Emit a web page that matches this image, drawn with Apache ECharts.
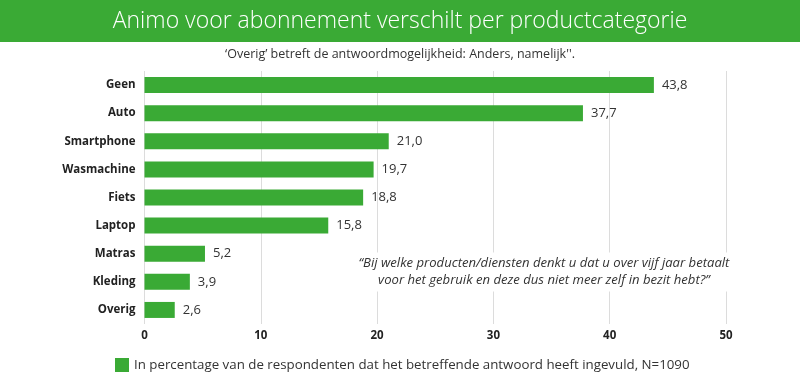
<!DOCTYPE html>
<html><head><meta charset="utf-8">
<script src="https://cdn.jsdelivr.net/npm/echarts@6/dist/echarts.min.js"></script>
<style>html,body{margin:0;padding:0;background:#fff}#c{width:800px;height:387px}</style>
</head><body><div id="c"></div>
<script>
const categories = ['Geen','Auto','Smartphone','Wasmachine','Fiets','Laptop','Matras','Kleding','Overig'];
const values = [43.8, 37.7, 21.0, 19.7, 18.8, 15.8, 5.2, 3.9, 2.6];
const xTicks = [0, 10, 20, 30, 40, 50];
const seriesName = 'In percentage van de respondenten dat het betreffende antwoord heeft ingevuld, N=1090';
const titleText = 'Animo voor abonnement verschilt per productcategorie';
const subtitleText = '\u2018Overig\u2019 betreft de antwoordmogelijkheid: Anders, namelijk\'\'.';
const quoteText = '\u201cBij welke producten/diensten denkt u dat u over vijf jaar betaalt\nvoor het gebruik en deze dus niet meer zelf in bezit hebt?\u201d';

const green = '#3aaa35';
const font = '"Open Sans", sans-serif';
const chart = echarts.init(document.getElementById('c'));
chart.setOption({
  animation: false,
  textStyle: {fontFamily: font},
  graphic: [
    {type: 'rect', shape: {x: 0, y: 0, width: 800, height: 42}, style: {fill: green}, z: 0},
    {type: 'text', x: 400, y: 21, style: {text: titleText, fill: '#fff', font: '300 23px ' + font, align: 'center', verticalAlign: 'middle'}},
    {type: 'text', x: 400, y: 54, style: {text: subtitleText, fill: '#333', font: '12.5px ' + font, align: 'center', verticalAlign: 'middle'}},
    {type: 'text', x: 544, y: 272, z: 10, style: {text: quoteText, fill: '#333', font: 'italic 13.1px ' + font, align: 'center', verticalAlign: 'middle', lineHeight: 17.5, backgroundColor: '#fff', padding: [2, 2]}}
  ],
  legend: {
    left: 110, top: 353, itemWidth: 14, itemHeight: 14, itemGap: 8,
    icon: 'rect',
    textStyle: {color: '#333', fontSize: 13.3, fontFamily: font},
    data: [seriesName]
  },
  grid: {left: 144.5, right: 74, top: 71, bottom: 63, containLabel: false},
  xAxis: {
    type: 'value', min: 0, max: 50, interval: 10,
    axisLine: {show: false}, axisTick: {show: false},
    splitLine: {show: true, lineStyle: {color: '#dcdcdc', width: 1}},
    axisLabel: {color: '#222', fontWeight: 'bold', fontSize: 11.5, margin: 6,
      formatter: v => xTicks.includes(v) ? String(v) : ''}
  },
  yAxis: {
    type: 'category', data: categories, inverse: true,
    axisLine: {show: false}, axisTick: {show: false},
    axisLabel: {color: '#222', fontWeight: 'bold', fontSize: 11.5, margin: 9}
  },
  series: [{
    name: seriesName, type: 'bar', data: values, barWidth: 16,
    itemStyle: {color: green},
    label: {show: true, position: 'right', distance: 8, color: '#333', fontSize: 13,
      formatter: p => p.value.toFixed(1).replace('.', ',')}
  }]
});
</script></body></html>
